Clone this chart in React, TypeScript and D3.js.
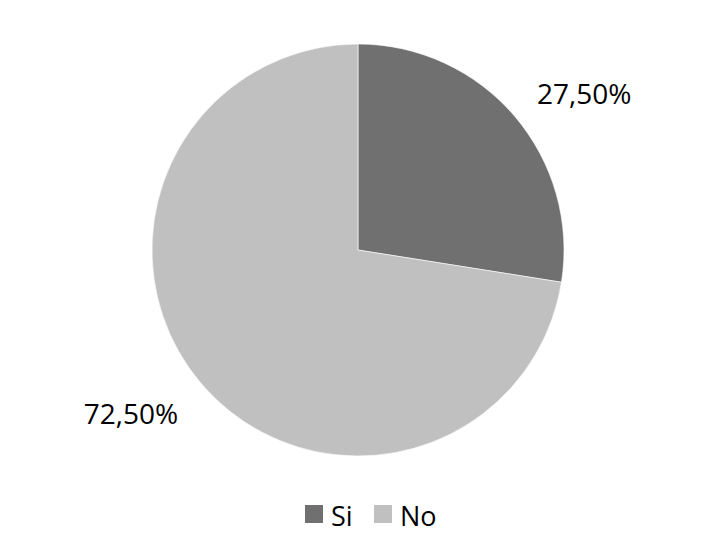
import React from 'react'
import * as d3 from 'd3'

const categories = ['Si', 'No']
const values = [27.5, 72.5]
const colors = ['#707070', '#c0c0c0']

const width = 725
const height = 547
const cx = 358
const cy = 250
const radius = 206
const labelRadius = 230

const fmt = (v: number) => v.toFixed(2).replace('.', ',') + '%'

const App = () => {
  const pie = d3.pie<number>().value(d => d).sort(null)
  const arc = d3.arc<d3.PieArcDatum<number>>().innerRadius(0).outerRadius(radius)
  const arcs = pie(values)

  const legendX = d3.scaleOrdinal<string, number>().domain(categories).range([305, 374])

  return (
    <svg
      width={width}
      height={height}
      style={{ position: 'absolute', left: 0, top: 0, background: '#fff' }}
      fontFamily="'Open Sans', sans-serif"
    >
      <g transform={`translate(${cx},${cy})`}>
        {arcs.map((d, i) => (
          <path key={i} d={arc(d) || ''} fill={colors[i]} stroke="#fff" strokeWidth={0.6} />
        ))}
        {arcs.map((d, i) => {
          const a = (d.startAngle + d.endAngle) / 2
          const x = labelRadius * Math.sin(a)
          const y = -labelRadius * Math.cos(a)
          const right = Math.sin(a) > 0
          const upper = Math.cos(a) > 0
          return (
            <text
              key={i}
              x={right ? x + 4 : x - 5}
              y={upper ? y + 3 : y + 25}
              textAnchor={right ? 'start' : 'end'}
              fontSize={28}
              fill="#000"
            >
              {fmt(d.data)}
            </text>
          )
        })}
      </g>
      <g>
        {categories.map((c, i) => (
          <g key={c} transform={`translate(${legendX(c)},505)`}>
            <rect width={18} height={18} fill={colors[i]} />
            <text x={26} y={21} fontSize={27} fill="#000">{c}</text>
          </g>
        ))}
      </g>
    </svg>
  )
}

export default App
